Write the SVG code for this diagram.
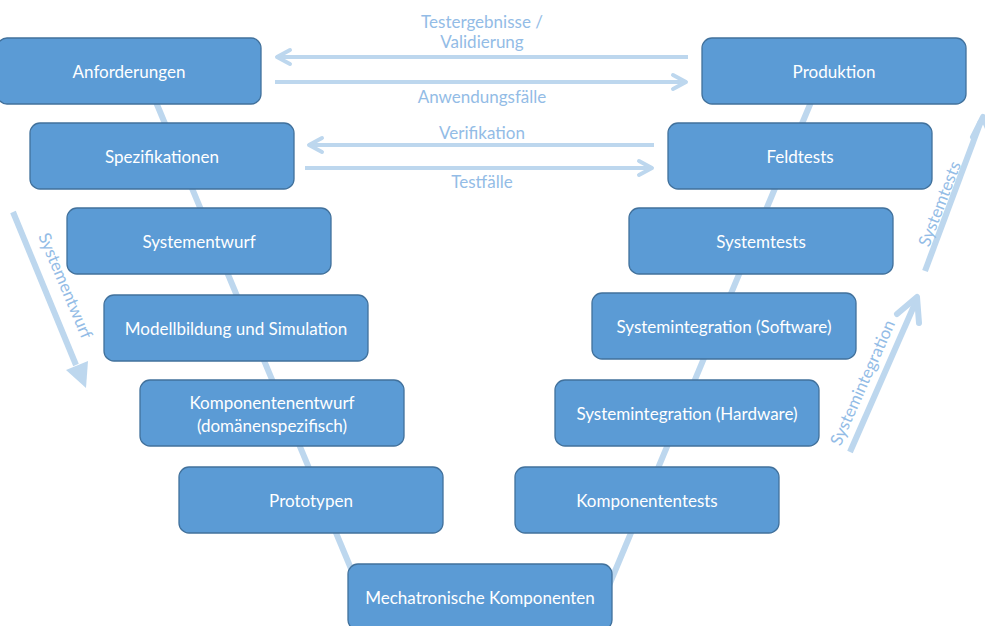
<svg xmlns="http://www.w3.org/2000/svg" width="985" height="626" viewBox="0 0 985 626">
<style>
.box{fill:#5B9BD5;stroke:#41719C;stroke-width:1.3}
.t{font-family:Lato,"Open Sans","Liberation Sans",sans-serif;font-size:17px;fill:#FFFFFF;text-anchor:middle;dominant-baseline:central}
.lbl{font-family:Lato,"Open Sans","Liberation Sans",sans-serif;font-size:17px;fill:#93BCE6;text-anchor:middle}
.v{stroke:#BDD7EE;stroke-width:6;fill:none}
.a{stroke:#BDD7EE;stroke-width:4;fill:none}
.ah{stroke:#BDD7EE;stroke-width:4;fill:none;stroke-linecap:round;stroke-linejoin:round}
.big{stroke:#BDD7EE;stroke-width:6;fill:none}
</style>
<rect width="985" height="626" fill="#FFFFFF"/>
<g id="connectors">
  <line class="v" x1="143" y1="71" x2="362" y2="595"/>
  <line class="v" x1="605" y1="595" x2="824" y2="71"/>
  <line class="a" x1="277" y1="57" x2="688" y2="57"/>
  <polyline class="ah" points="290,50 277,57 290,64"/>
  <line class="a" x1="275" y1="82" x2="686" y2="82"/>
  <polyline class="ah" points="673,75 686,82 673,89"/>
  <line class="a" x1="309" y1="145" x2="654" y2="145"/>
  <polyline class="ah" points="322,138 309,145 322,152"/>
  <line class="a" x1="305" y1="168" x2="652" y2="168"/>
  <polyline class="ah" points="639,161 652,168 639,175"/>
  <line class="big" x1="13" y1="212" x2="76" y2="365"/>
  <polygon points="66,370 88,361 86,388" fill="#BDD7EE"/>
  <line class="big" x1="850" y1="452" x2="917" y2="299" stroke-linecap="butt"/>
  <polyline points="897,314 917,297 919,323" fill="none" stroke="#BDD7EE" stroke-width="6" stroke-linecap="round" stroke-linejoin="round"/>
  <line class="big" x1="925" y1="271" x2="981" y2="121"/>
  <polyline points="973,137 983,117 993,140" fill="none" stroke="#BDD7EE" stroke-width="6" stroke-linecap="round" stroke-linejoin="round"/>
  <text class="lbl" x="482" y="28">Testergebnisse /</text>
  <text class="lbl" x="482" y="48">Validierung</text>
  <text class="lbl" x="482" y="103">Anwendungsfälle</text>
  <text class="lbl" x="482" y="139">Verifikation</text>
  <text class="lbl" x="482" y="188">Testfälle</text>
  <text class="lbl" transform="translate(60,288) rotate(67)">Systementwurf</text>
  <text class="lbl" transform="translate(868,385) rotate(-66)">Systemintegration</text>
  <text class="lbl" transform="translate(945,206) rotate(-69)">Systemtests</text>
</g>
<g id="n-anforderungen"><rect class="box" x="-3" y="38" width="264" height="66" rx="10"/><text class="t" x="129" y="71">Anforderungen</text></g>
<g id="n-produktion"><rect class="box" x="702" y="38" width="264" height="66" rx="10"/><text class="t" x="834" y="71">Produktion</text></g>
<g id="n-spezifikationen"><rect class="box" x="30" y="123" width="264" height="66" rx="10"/><text class="t" x="162" y="156">Spezifikationen</text></g>
<g id="n-feldtests"><rect class="box" x="668" y="123" width="264" height="66" rx="10"/><text class="t" x="800" y="156">Feldtests</text></g>
<g id="n-systementwurf"><rect class="box" x="67" y="208" width="264" height="66" rx="10"/><text class="t" x="199" y="241">Systementwurf</text></g>
<g id="n-systemtests"><rect class="box" x="629" y="208" width="264" height="66" rx="10"/><text class="t" x="761" y="241">Systemtests</text></g>
<g id="n-modellbildung"><rect class="box" x="104" y="295" width="264" height="66" rx="10"/><text class="t" x="236" y="328">Modellbildung und Simulation</text></g>
<g id="n-sw"><rect class="box" x="592" y="293" width="264" height="66" rx="10"/><text class="t" x="724" y="326">Systemintegration (Software)</text></g>
<g id="n-komponentenentwurf"><rect class="box" x="140" y="380" width="264" height="66" rx="10"/><text class="t" x="272" y="402">Komponentenentwurf</text><text class="t" x="272" y="425">(domänenspezifisch)</text></g>
<g id="n-hw"><rect class="box" x="555" y="380" width="264" height="66" rx="10"/><text class="t" x="687" y="413">Systemintegration (Hardware)</text></g>
<g id="n-prototypen"><rect class="box" x="179" y="467" width="264" height="66" rx="10"/><text class="t" x="311" y="500">Prototypen</text></g>
<g id="n-komponententests"><rect class="box" x="515" y="467" width="264" height="66" rx="10"/><text class="t" x="647" y="500">Komponententests</text></g>
<g id="n-mechatronische"><rect class="box" x="348" y="564" width="264" height="66" rx="10"/><text class="t" x="480" y="597">Mechatronische Komponenten</text></g>
</svg>
